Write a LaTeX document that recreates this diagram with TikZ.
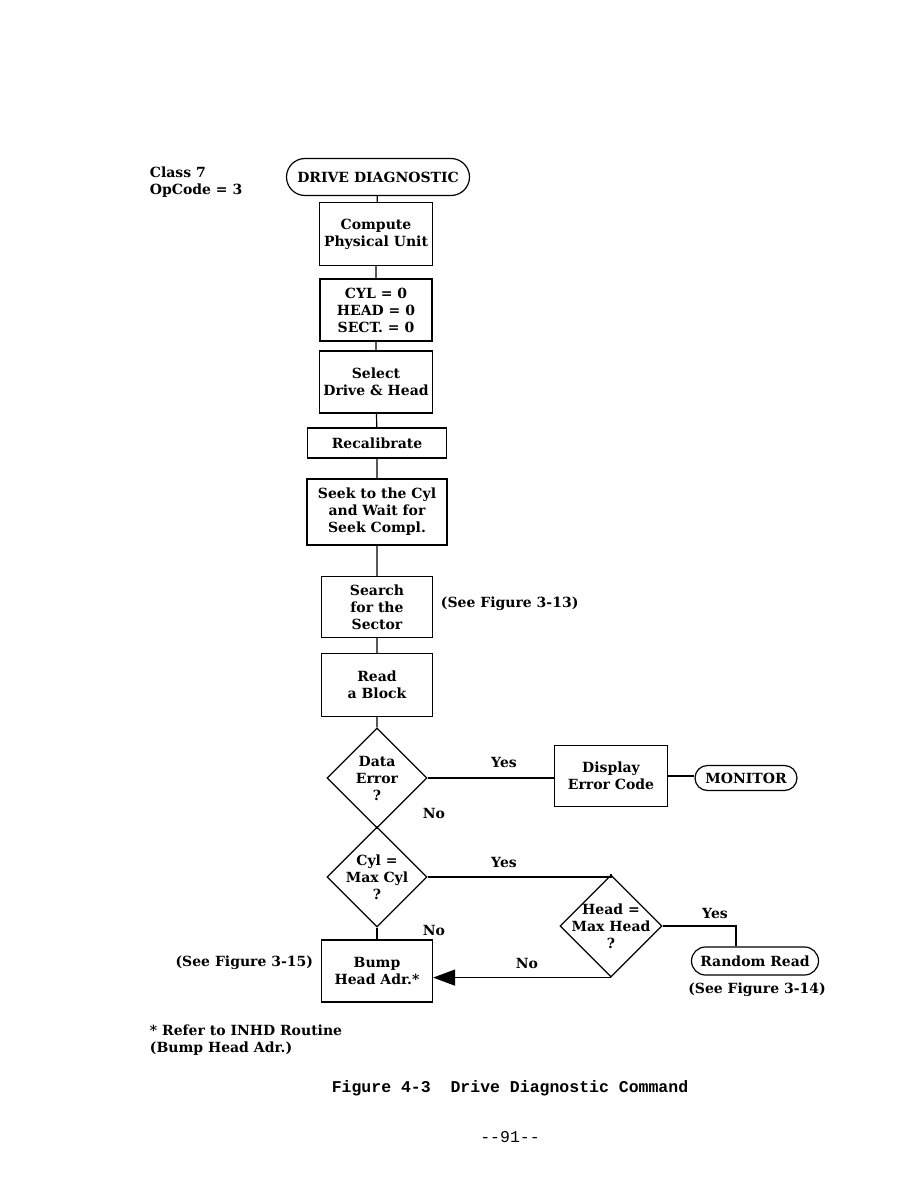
\documentclass[tikz,border=0pt]{standalone}
\usepackage{fontspec}
\setmainfont{DejaVu Serif}
\setmonofont{Liberation Mono}
\usetikzlibrary{shapes.geometric,shapes.misc,arrows.meta}
\begin{document}
\begin{tikzpicture}[x=1pt, y=-1pt, line width=1.2pt,
  font=\fontsize{14}{17}\selectfont\bfseries,
  box/.style={draw, align=center, inner sep=2pt},
  term/.style={draw, rounded rectangle, inner sep=0pt},
  decision/.style={draw, diamond, minimum width=100pt, minimum height=100pt, inner sep=0pt},
  note/.style={align=left, anchor=west}]
\useasboundingbox (0,0) rectangle (918,1188);
\node[note] (class) at (146,182) {Class 7\\OpCode = 3};
\node[term, minimum width=183pt, minimum height=37pt] (start) at (378,177) {DRIVE DIAGNOSTIC};
\node[box, minimum width=113pt, minimum height=63pt] (compute) at (376,234) {Compute\\Physical Unit};
\node[box, minimum width=112pt, minimum height=62pt] (zero) at (376,310) {CYL = 0\\HEAD = 0\\SECT. = 0};
\node[box, minimum width=113pt, minimum height=62pt] (select) at (376,382) {Select\\Drive \& Head};
\node[box, minimum width=139pt, minimum height=30pt] (recal) at (377,443) {Recalibrate};
\node[box, minimum width=140pt, minimum height=66pt] (seek) at (377,512) {Seek to the Cyl\\and Wait for\\Seek Compl.};
\node[box, minimum width=111pt, minimum height=61pt] (search) at (377,607) {Search\\for the\\Sector};
\node[note] (seefig13) at (437,604) {(See Figure 3-13)};
\node[box, minimum width=111pt, minimum height=63pt] (read) at (377,685) {Read\\a Block};
\node[decision, label={[align=center]center:Data\\Error\\?}] (dataerr) at (377,778) {};
\node[box, minimum width=113pt, minimum height=61pt] (display) at (611,776) {Display\\Error Code};
\node[term, minimum width=102pt, minimum height=25pt] (monitor) at (746,778) {MONITOR};
\node (yes1) at (504,762) {Yes};
\node (no1) at (434,813) {No};
\node[decision, label={[align=center]center:Cyl =\\Max Cyl\\?}] (maxcyl) at (377,877) {};
\node (yes2) at (504,862) {Yes};
\node (no2) at (434,930) {No};
\node[decision, minimum width=102pt, minimum height=102pt, label={[align=center]center:Head =\\Max Head\\?}] (maxhead) at (611,926) {};
\node (yes3) at (715,913) {Yes};
\node (no3) at (527,963) {No};
\node[term, minimum width=127pt, minimum height=28pt] (random) at (755,961) {Random Read};
\node (seefig14) at (757,990) {(See Figure 3-14)};
\node[box, minimum width=111pt, minimum height=62pt] (bump) at (377,971) {Bump\\Head Adr.*};
\node[anchor=east] (seefig15) at (317,963) {(See Figure 3-15)};
\node[note] (inhd) at (146,1040) {* Refer to INHD Routine\\(Bump Head Adr.)};
\node[font=\fontsize{16.5}{18}\selectfont\ttfamily\bfseries] (caption) at (510,1088) {Figure 4-3\ \ Drive Diagnostic Command};
\node[font=\fontsize{16.5}{18}\selectfont\ttfamily] (page) at (510,1137) {-{}-91-{}-};
\draw (start) -- (compute) -- (zero) -- (select) -- (recal) -- (seek) -- (search) -- (read) -- (dataerr.north);
\draw (dataerr.south) -- (maxcyl.north);
\draw (maxcyl.south) -- (bump.north);
\draw (dataerr.east) -- (dataerr.east -| display.west);
\draw (display.east) -- (display.east -| monitor.west);
\draw (maxcyl.east) -| (maxhead.north);
\draw (maxhead.east) -| ([xshift=-19pt]random.north);
\draw[-{Triangle[length=22pt,width=16pt]}] (maxhead.south) -- (maxhead.south -| bump.east);
\end{tikzpicture}
\end{document}
